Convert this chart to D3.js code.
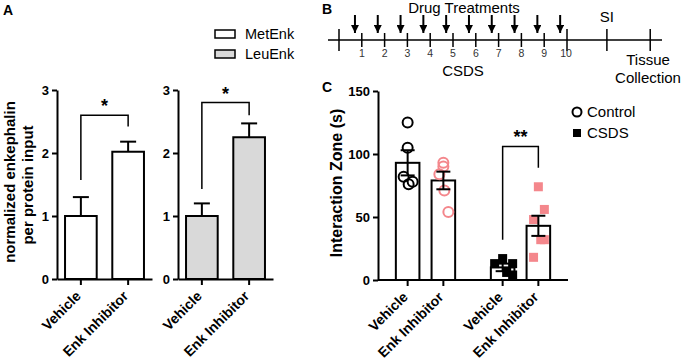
<!DOCTYPE html>
<html>
<head>
<meta charset="utf-8">
<script src="https://cdn.jsdelivr.net/npm/d3@7"></script>
<style>
  body { margin: 0; background: #fff; }
  svg { font-family: "Liberation Sans", Arial, sans-serif; }
  .axis path, .axis line { stroke: #000; stroke-width: 2; }
  .axis text { font-weight: bold; fill: #000; }
</style>
</head>
<body>
<div id="container"></div>
<script>
// panel A data
const enkGroups = ['Vehicle', 'Enk Inhibitor']
const metEnkMean = [1.0, 2.02]
const metEnkSem = [0.3, 0.16]
const leuEnkMean = [1.0, 2.25]
const leuEnkSem = [0.2, 0.22]
const enkTicks = [0, 1, 2, 3]

// panel B data
const dayLabels = ['1', '2', '3', '4', '5', '6', '7', '8', '9', '10']
const drugDays = [0.7, 1.7, 2.7, 3.7, 4.7, 5.7, 6.7, 7.7, 8.7, 9.7]
const siDay = 11.75
const tissueDay = 13.65

// panel C data
const siConditions = ['Control', 'CSDS']
const siGroups = ['Vehicle', 'Enk Inhibitor']
const siMean = [[93, 79], [10, 43]]
const siSem = [[10, 7], [3, 8]]
const siPoints = [
    [[125, 105, 82, 76, 78], [93, 90, 84, 71, 54]],
    [[17, 13, 13, 6, 4], [74, 56, 48, 32, 32, 18]]
]
const siTicks = [0, 50, 100, 150]

const pink = '#F4878C'
const width = 685
const height = 358
const svg = d3.select('#container').append('svg').attr('width', width).attr('height', height)

const label = (x, y, txt, size, weight, anchor) => svg.append('text')
    .attr('x', x).attr('y', y).text(txt)
    .attr('font-size', size).attr('font-weight', weight || 'normal')
    .attr('text-anchor', anchor || 'start')

// ---------- A ----------
label(3, 15, 'A', 14, 'bold')

const yA = d3.scaleLinear().domain([0, 3]).range([279, 90])

const drawEnk = (x0, means, sems, fill, bracketTop, leftArm, rightArm) => {
    const x = d3.scaleBand().domain(enkGroups).range([x0, x0 + 95]).paddingInner(0.33).paddingOuter(0.17)
    const g = svg.append('g')

    // error bars (upper only)
    enkGroups.forEach((grp, i) => {
        const cx = x(grp) + x.bandwidth() / 2
        g.append('line').attr('x1', cx).attr('x2', cx)
            .attr('y1', yA(means[i])).attr('y2', yA(means[i] + sems[i]))
            .attr('stroke', '#000').attr('stroke-width', 2)
        g.append('line').attr('x1', cx - 8).attr('x2', cx + 8)
            .attr('y1', yA(means[i] + sems[i])).attr('y2', yA(means[i] + sems[i]))
            .attr('stroke', '#000').attr('stroke-width', 2)
    })

    g.selectAll('rect').data(means).enter().append('rect')
        .attr('x', (d, i) => x(enkGroups[i]))
        .attr('y', d => yA(d))
        .attr('width', x.bandwidth())
        .attr('height', d => yA(0) - yA(d))
        .attr('fill', fill).attr('stroke', '#000').attr('stroke-width', 2)

    // significance bracket
    const c0 = x(enkGroups[0]) + x.bandwidth() / 2
    const c1 = x(enkGroups[1]) + x.bandwidth() / 2
    g.append('path')
        .attr('d', `M${c0},${yA(leftArm)} V${yA(bracketTop)} H${c1} V${yA(rightArm)}`)
        .attr('fill', 'none').attr('stroke', '#000').attr('stroke-width', 1.5)
    g.append('text').attr('x', (c0 + c1) / 2).attr('y', yA(bracketTop) - 3)
        .attr('text-anchor', 'middle').attr('font-size', 18).attr('font-weight', 'bold').text('*')

    const yAxis = d3.axisLeft(yA).tickValues(enkTicks).tickSize(5).tickSizeOuter(0).tickFormat(d3.format('d'))
    g.append('g').attr('class', 'axis').attr('transform', `translate(${x0}, 0)`).call(yAxis)
        .attr('font-size', 13).attr('font-family', null)

    const xAxis = d3.axisBottom(x).tickSize(6).tickSizeOuter(0)
    const xg = g.append('g').attr('class', 'axis').attr('transform', `translate(0, ${yA(0)})`).call(xAxis)
        .attr('font-size', 14).attr('font-family', null)
    xg.selectAll('text')
        .attr('text-anchor', 'end')
        .attr('x', 0).attr('y', 0).attr('dy', 0)
        .attr('transform', 'translate(1, 18) rotate(-45)')
}

drawEnk(57, metEnkMean, metEnkSem, '#fff', 2.6, 1.57, 2.42)
drawEnk(178, leuEnkMean, leuEnkSem, '#d9d9d9', 2.8, 1.43, 2.6)

// y label A
svg.append('text').attr('transform', 'translate(15, 182) rotate(-90)')
    .attr('text-anchor', 'middle').attr('font-size', 15).attr('font-weight', 'bold').text('normalized enkephalin')
svg.append('text').attr('transform', 'translate(33, 185) rotate(-90)')
    .attr('text-anchor', 'middle').attr('font-size', 15).attr('font-weight', 'bold').text('per protein input')

// legend A
const legA = [['MetEnk', '#fff'], ['LeuEnk', '#d9d9d9']]
legA.forEach((d, i) => {
    svg.append('rect').attr('x', 215).attr('y', 30 + i * 20).attr('width', 20).attr('height', 8)
        .attr('fill', d[1]).attr('stroke', '#000').attr('stroke-width', 1.5)
    label(245, 39 + i * 20, d[0], 14.5)
})

// ---------- B ----------
label(322, 14, 'B', 14, 'bold')
const xB = d3.scaleLinear().domain([0, 10]).range([339, 567])
const lineY = 40
svg.append('line').attr('x1', 328).attr('x2', 662).attr('y1', lineY).attr('y2', lineY)
    .attr('stroke', '#000').attr('stroke-width', 1.5)
const majorDays = [0, 10, siDay, tissueDay]
majorDays.forEach(d => {
    svg.append('line').attr('x1', xB(d)).attr('x2', xB(d)).attr('y1', lineY - 11).attr('y2', lineY + 11)
        .attr('stroke', '#000').attr('stroke-width', 1.5)
})
dayLabels.forEach((d, i) => {
    if (i < 9) {
        svg.append('line').attr('x1', xB(i + 1)).attr('x2', xB(i + 1)).attr('y1', lineY - 7).attr('y2', lineY + 7)
            .attr('stroke', '#000').attr('stroke-width', 1.5)
    }
    label(xB(i + 1) + (i === 9 ? -1 : 0), 57, d, 10.5, 'normal', 'middle').attr('fill', '#333')
})
svg.append('defs').append('marker').attr('id', 'arr').attr('viewBox', '0 0 10 10')
    .attr('refX', 10).attr('refY', 5).attr('markerWidth', 4).attr('markerHeight', 4)
    .attr('markerUnits', 'strokeWidth').attr('orient', 'auto')
    .append('path').attr('d', 'M0,0 L10,5 L0,10 Z').attr('fill', '#000')
drugDays.forEach(d => {
    svg.append('line').attr('x1', xB(d)).attr('x2', xB(d)).attr('y1', 15).attr('y2', 33)
        .attr('stroke', '#000').attr('stroke-width', 2).attr('marker-end', 'url(#arr)')
})
label(464, 13, 'Drug Treatments', 15, 'normal', 'middle')
label(xB(siDay), 22, 'SI', 15, 'normal', 'middle')
label(463, 76, 'CSDS', 15, 'normal', 'middle')
label(648, 65, 'Tissue', 15, 'normal', 'middle')
label(648, 83, 'Collection', 15, 'normal', 'middle')

// ---------- C ----------
label(322, 92, 'C', 14, 'bold')
const yC = d3.scaleLinear().domain([0, 150]).range([280, 91])
const xCond = d3.scaleBand().domain(siConditions).range([378, 568])
const xGrp = d3.scaleBand().domain(siGroups).range([0, xCond.bandwidth()]).paddingInner(0.34).paddingOuter(0.5)
const jitter = [[0, 0, -4, 1, 5, -2], [0, 5, -4, 2, 5, -4]]
const gC = svg.append('g')

siConditions.forEach((cond, ci) => {
    siGroups.forEach((grp, gi) => {
        const bx = xCond(cond) + xGrp(grp)
        const bw = xGrp.bandwidth()
        const cx = bx + bw / 2
        const m = siMean[ci][gi]
        const s = siSem[ci][gi]
        gC.append('rect').attr('x', bx).attr('y', yC(m)).attr('width', bw).attr('height', yC(0) - yC(m))
            .attr('fill', '#fff').attr('stroke', '#000').attr('stroke-width', 2)
        const color = gi === 0 ? '#000' : pink
        const pts = siPoints[ci][gi]
        if (ci === 0) {
            gC.selectAll(null).data(pts).enter().append('circle')
                .attr('cx', (d, i) => cx + jitter[0][i])
                .attr('cy', d => yC(d))
                .attr('r', 5).attr('fill', 'none').attr('stroke', color).attr('stroke-width', 2)
        } else {
            gC.selectAll(null).data(pts).enter().append('rect')
                .attr('x', (d, i) => cx + jitter[1][i] * (gi === 0 ? 2 : 1.2) - 4.5)
                .attr('y', d => yC(d) - 4.5)
                .attr('width', 9).attr('height', 9).attr('fill', color)
        }
        // error bar
        gC.append('line').attr('x1', cx).attr('x2', cx).attr('y1', yC(m - s)).attr('y2', yC(m + s))
            .attr('stroke', '#000').attr('stroke-width', 2)
        ;[m - s, m + s].forEach(v => {
            gC.append('line').attr('x1', cx - 7).attr('x2', cx + 7).attr('y1', yC(v)).attr('y2', yC(v))
                .attr('stroke', '#000').attr('stroke-width', 2)
        })
    })
})

// bracket
const b0 = xCond('CSDS') + xGrp('Vehicle') + xGrp.bandwidth() / 2
const b1 = xCond('CSDS') + xGrp('Enk Inhibitor') + xGrp.bandwidth() / 2
gC.append('path').attr('d', `M${b0},${yC(32)} V${yC(106)} H${b1} V${yC(89)}`)
    .attr('fill', 'none').attr('stroke', '#000').attr('stroke-width', 1.5)
gC.append('text').attr('x', (b0 + b1) / 2).attr('y', yC(106) - 3).attr('text-anchor', 'middle')
    .attr('font-size', 18).attr('font-weight', 'bold').text('**')

const yAxisC = d3.axisLeft(yC).tickValues(siTicks).tickSize(5).tickSizeOuter(0)
gC.append('g').attr('class', 'axis').attr('transform', 'translate(378, 0)').call(yAxisC)
    .attr('font-size', 13).attr('font-family', null)

// x axis C with ticks at each bar centre
const cTicks = []
siConditions.forEach(c => siGroups.forEach(g => cTicks.push({ c, g })))
const xaxG = gC.append('g').attr('class', 'axis')
xaxG.append('line').attr('x1', 378).attr('x2', 568).attr('y1', yC(0)).attr('y2', yC(0))
cTicks.forEach(t => {
    const cx = xCond(t.c) + xGrp(t.g) + xGrp.bandwidth() / 2
    xaxG.append('line').attr('x1', cx).attr('x2', cx).attr('y1', yC(0)).attr('y2', yC(0) + 6)
    xaxG.append('text').attr('text-anchor', 'end').attr('font-size', 14)
        .attr('transform', `translate(${cx + 1}, ${yC(0) + 18}) rotate(-45)`)
        .text(t.g)
})

svg.append('text').attr('transform', 'translate(342, 183) rotate(-90)')
    .attr('text-anchor', 'middle').attr('font-size', 16).attr('font-weight', 'bold').text('Interaction Zone (s)')

// legend C
svg.append('circle').attr('cx', 577).attr('cy', 112).attr('r', 4.5)
    .attr('fill', 'none').attr('stroke', '#000').attr('stroke-width', 2)
label(587, 117, 'Control', 15)
svg.append('rect').attr('x', 573).attr('y', 129).attr('width', 8).attr('height', 8).attr('fill', '#000')
label(587, 138, 'CSDS', 15)
</script>
</body>
</html>
